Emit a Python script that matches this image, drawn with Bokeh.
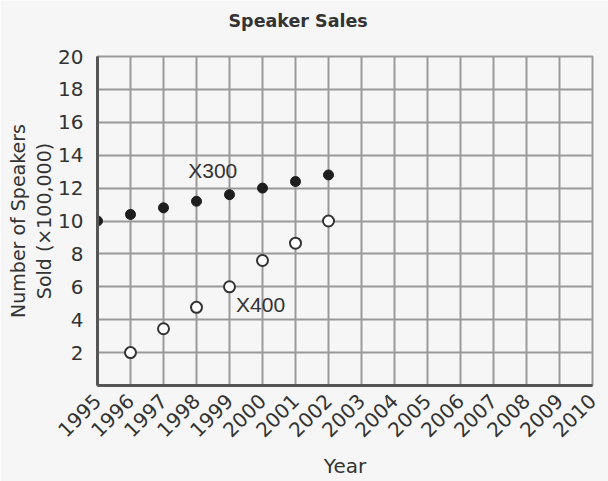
from bokeh.plotting import figure
from bokeh.models import FixedTicker, Label, ColumnDataSource, Title
from bokeh.embed import file_html
from bokeh.resources import INLINE
import math

years_300 = [1995, 1996, 1997, 1998, 1999, 2000, 2001, 2002]
sales_300 = [10.0, 10.4, 10.8, 11.2, 11.6, 12.0, 12.4, 12.8]
years_400 = [1996, 1997, 1998, 1999, 2000, 2001, 2002]
sales_400 = [2.0, 3.45, 4.75, 6.0, 7.6, 8.65, 10.0]
x_ticks = list(range(1995, 2011))
y_ticks = [2, 4, 6, 8, 10, 12, 14, 16, 18, 20]

p = figure(width=608, height=481, output_backend="svg", toolbar_location=None,
           x_range=(1995, 2010), y_range=(0, 20),
           min_border_left=97, min_border_right=16, min_border_top=56, min_border_bottom=95,
           title="Speaker Sales")

bg = "#f6f6f6"
p.background_fill_color = bg
p.border_fill_color = bg
p.outline_line_color = "#9a9a9a"
p.outline_line_width = 2

p.title.text_font = "DejaVu Sans"
p.title.text_font_size = "17.5px"
p.title.text_font_style = "bold"
p.title.text_color = "#333333"
p.title.align = "left"
p.title.offset = 131
p.title.vertical_align = "top"

# spacer title to lift the main title
p.add_layout(Title(text=" ", text_font_size="16px", standoff=0, text_color=bg), "above")

for ax in (p.xaxis[0], p.yaxis[0]):
    ax.axis_line_color = "#555555"
    ax.axis_line_width = 3
    ax.major_tick_line_color = None
    ax.minor_tick_line_color = None
    ax.major_label_text_font = "DejaVu Sans"
    ax.major_label_text_color = "#333333"
    ax.axis_label_text_color = "#333333"
    ax.axis_label_text_font_style = "normal"
    ax.axis_label_text_font = "DejaVu Sans"

p.xaxis.ticker = FixedTicker(ticks=x_ticks)
p.yaxis.ticker = FixedTicker(ticks=y_ticks)
p.xaxis.major_label_orientation = math.pi / 4
p.xaxis.major_label_text_font_size = "20px"
p.xaxis.major_label_standoff = 6
p.yaxis.major_label_text_font_size = "20px"
p.yaxis.major_label_standoff = 8
p.xaxis.axis_label = "Year"
p.xaxis.axis_label_text_font_size = "20px"
p.xaxis.axis_label_standoff = 8
p.yaxis.axis_label = "Number of Speakers\nSold (\u00d7100,000)"
p.yaxis.axis_label_text_font_size = "19px"
p.yaxis.axis_label_standoff = 0

p.xgrid.ticker = FixedTicker(ticks=x_ticks)
p.ygrid.ticker = FixedTicker(ticks=y_ticks)
for g in (p.xgrid[0], p.ygrid[0]):
    g.grid_line_color = "#9a9a9a"
    g.grid_line_width = 2

src300 = ColumnDataSource(dict(x=years_300, y=sales_300))
src400 = ColumnDataSource(dict(x=years_400, y=sales_400))
p.scatter("x", "y", source=src300, size=10, fill_color="#1e1e1e", line_color="#1e1e1e")
p.scatter("x", "y", source=src400, size=11, fill_color="white", line_color="#333333", line_width=2)

p.add_layout(Label(x=1997.75, y=13.1, text="X300", text_font="Liberation Sans",
                   text_font_size="21px", text_color="#333333", text_baseline="middle"))
p.add_layout(Label(x=1999.2, y=4.95, text="X400", text_font="Liberation Sans",
                   text_font_size="21px", text_color="#333333", text_baseline="middle"))

open("out.html", "w").write(file_html(p, INLINE))
